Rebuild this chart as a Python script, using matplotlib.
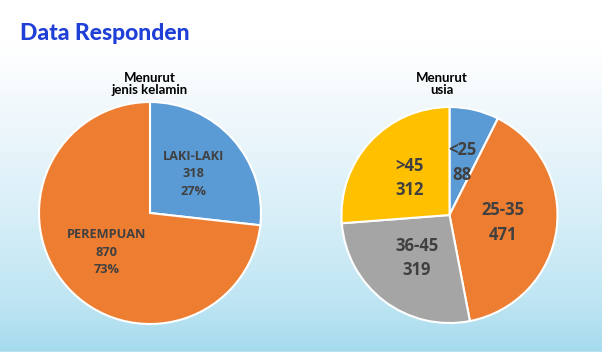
import numpy as np
import matplotlib
matplotlib.use("Agg")
import matplotlib.pyplot as plt
from matplotlib.colors import LinearSegmentedColormap

# Data
gender_labels = ["LAKI-LAKI", "PEREMPUAN"]
gender_values = [318, 870]
gender_pct = ["27%", "73%"]
age_labels = ["<25", "25-35", "36-45", ">45"]
age_values = [88, 471, 319, 312]

title_text = "Data Responden"
gender_title = "Menurut\njenis kelamin"
age_title = "Menurut\nusia"

W, H = 602, 354
DPI = 100
fig = plt.figure(figsize=(W / DPI, H / DPI), dpi=DPI)

# background gradient
bg = fig.add_axes([0, 0, 1, 1])
bg.set_axis_off()
rows = np.linspace(0, 1, 354)
cmap = LinearSegmentedColormap.from_list(
    "bg", [(0.0, "#ffffff"), (0.12, "#ffffff"), (0.35, "#eef7fb"),
           (0.6, "#d8eff8"), (0.85, "#bfe5f3"), (0.995, "#a6dbee"), (1.0, "#ffffff")])
grad = np.tile(rows[:, None], (1, 10))
bg.imshow(grad, cmap=cmap, aspect="auto", extent=[0, 1, 1, 0], vmin=0, vmax=1)
bg.set_xlim(0, 1)
bg.set_ylim(1, 0)

fig.text(20 / W, 1 - 34 / H, title_text, fontsize=16.5, fontweight="black",
         color="#1f3fd6", family="Lato", va="center", ha="left")


def pie_axes(cx, cy, r):
    return fig.add_axes([(cx - r) / W, (H - cy - r) / H, 2 * r / W, 2 * r / H])


text_color = "#404040"

# Left pie
ax1 = pie_axes(150, 213, 111)
wedges1, _ = ax1.pie(gender_values, colors=["#5b9bd5", "#ed7d31"], startangle=90,
                     counterclock=False, radius=1,
                     wedgeprops=dict(edgecolor="white", linewidth=1.5))
for w, lab, v, p in zip(wedges1, gender_labels, gender_values, gender_pct):
    ang = np.deg2rad((w.theta1 + w.theta2) / 2)
    d = 0.53
    ax1.text(d * np.cos(ang), d * np.sin(ang), f"{lab}\n{v}\n{p}", ha="center",
             va="center", fontsize=9.2, fontweight="bold", color=text_color,
             family="Open Sans", linespacing=1.45)
ax1.set_xlim(-1, 1)
ax1.set_ylim(-1, 1)
ax1.set_axis_off()

fig.text(150 / W, 1 - 84 / H, gender_title, ha="center", va="center", fontsize=9.5,
         fontweight="bold", color="black", family="Lato", linespacing=1.1)

# Right pie
ax2 = pie_axes(449.5, 215, 108)
wedges2, _ = ax2.pie(age_values, colors=["#5b9bd5", "#ed7d31", "#a5a5a5", "#ffc000"],
                     startangle=90, counterclock=False, radius=1,
                     wedgeprops=dict(edgecolor="white", linewidth=1.5))
for w, lab, v in zip(wedges2, age_labels, age_values):
    ang = np.deg2rad((w.theta1 + w.theta2) / 2)
    d = 0.5
    ax2.text(d * np.cos(ang), d * np.sin(ang), f"{lab}\n{v}", ha="center",
             va="center", fontsize=12, fontweight="bold", color=text_color,
             family="Open Sans", linespacing=1.45)
ax2.set_xlim(-1, 1)
ax2.set_ylim(-1, 1)
ax2.set_axis_off()

fig.text(442 / W, 1 - 84 / H, age_title, ha="center", va="center", fontsize=9.5,
         fontweight="bold", color="black", family="Lato", linespacing=1.1)

fig.savefig("out.png", dpi=DPI)
